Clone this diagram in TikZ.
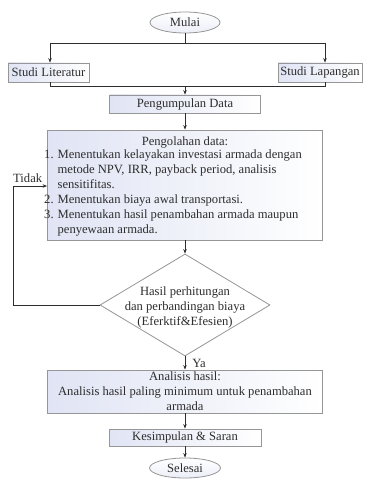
\documentclass[tikz,border=0pt]{standalone}
\usepackage{fontspec}
\setmainfont{Liberation Serif}
\usetikzlibrary{shapes.geometric,arrows.meta}
\definecolor{boxfill}{RGB}{224,228,244}
\definecolor{edge}{RGB}{150,150,150}
\definecolor{ink}{RGB}{45,45,45}
\begin{document}
\begin{tikzpicture}[x=1pt,y=-1pt,
  font=\fontsize{12.6}{15}\selectfont,
  box/.style={draw=edge, line width=0.8pt, left color=boxfill, right color=white, inner sep=0pt, text=ink},
  term/.style={ellipse, draw=edge, line width=0.8pt, top color=white, bottom color=boxfill!60, inner sep=0pt, text=ink},
  txt/.style={inner sep=0pt, text=ink},
  conn/.style={draw=ink, line width=0.7pt},
  arr/.style={conn, -{Stealth[length=4.5pt,width=3.5pt]}}]
\useasboundingbox (0,0) rectangle (370,484);
% nodes
\node[term, minimum width=70pt, minimum height=21pt] (mulai) at (185,22.5) {Mulai};
\node[box, minimum width=81pt, minimum height=19pt] (lit) at (48.5,72.5) {Studi Literatur};
\node[box, minimum width=84pt, minimum height=19pt] (lap) at (320,72.5) {Studi Lapangan};
\node[box, minimum width=151pt, minimum height=18pt] (kumpul) at (185,104) {Pengumpulan Data};
\node[box, minimum width=275pt, minimum height=110pt] (olah) at (185,185) {};
\node[txt, anchor=base] (olahhead) at (185,145) {Pengolahan data:};
\node[txt, anchor=base west] (olahlist) at (44,158) {%
  \begin{tabular}[t]{@{}l@{\hspace{4pt}}l@{}}
  1. & Menentukan kelayakan investasi armada dengan\\
     & metode NPV, IRR, payback period, analisis\\
     & sensitifitas.\\
  2. & Menentukan biaya awal transportasi.\\
  3. & Menentukan hasil penambahan armada maupun\\
     & penyewaan armada.
  \end{tabular}};
\node[diamond, draw=edge, line width=0.8pt, fill=white, minimum width=170pt, minimum height=102pt, inner sep=0pt] (dec) at (185,305) {};
\node[txt, align=center] (dectext) at (185,307) {Hasil perhitungan\\dan perbandingan biaya\\(Eferktif\&Efesien)};
\node[box, minimum width=275pt, minimum height=43pt, align=center] (anal) at (185,391.5) {Analisis hasil:\\Analisis hasil paling minimum untuk penambahan\\armada};
\node[box, minimum width=152pt, minimum height=17pt] (simpul) at (185,437.5) {Kesimpulan \& Saran};
\node[term, minimum width=71pt, minimum height=20pt] (selesai) at (185,468) {Selesai};
% coordinates
\coordinate (split) at (185,43);
\coordinate (splitL) at (50,43);
\coordinate (splitR) at (325,43);
\coordinate (joinL) at (50,86);
\coordinate (joinR) at (325,86);
\coordinate (join) at (185,86);
\coordinate (loopB) at (13,305);
\coordinate (loopT) at (13,186);
% connectors
\draw[conn] (mulai) -- (split);
\draw[conn] (splitL) -- (splitR);
\draw[arr] (splitL) -- (splitL |- lit.north);
\draw[arr] (splitR) -- (splitR |- lap.north);
\draw[conn] (joinL |- lit.south) -- (joinL) -- (joinR) -- (joinR |- lap.south);
\draw[arr] (join) -- (kumpul);
\draw[arr] (kumpul) -- (olah);
\draw[arr] (olah) -- (dec);
\draw[arr] (dec.west) -- (loopB) -- (loopT) -- (loopT -| olah.west);
\node[txt, anchor=base west] (tidak) at (13,182) {Tidak};
\draw[arr] (dec) -- (anal) node[txt, midway, anchor=west, xshift=7pt] (ya) {Ya};
\draw[arr] (anal) -- (simpul);
\draw[arr] (simpul) -- (selesai);
\end{tikzpicture}
\end{document}
